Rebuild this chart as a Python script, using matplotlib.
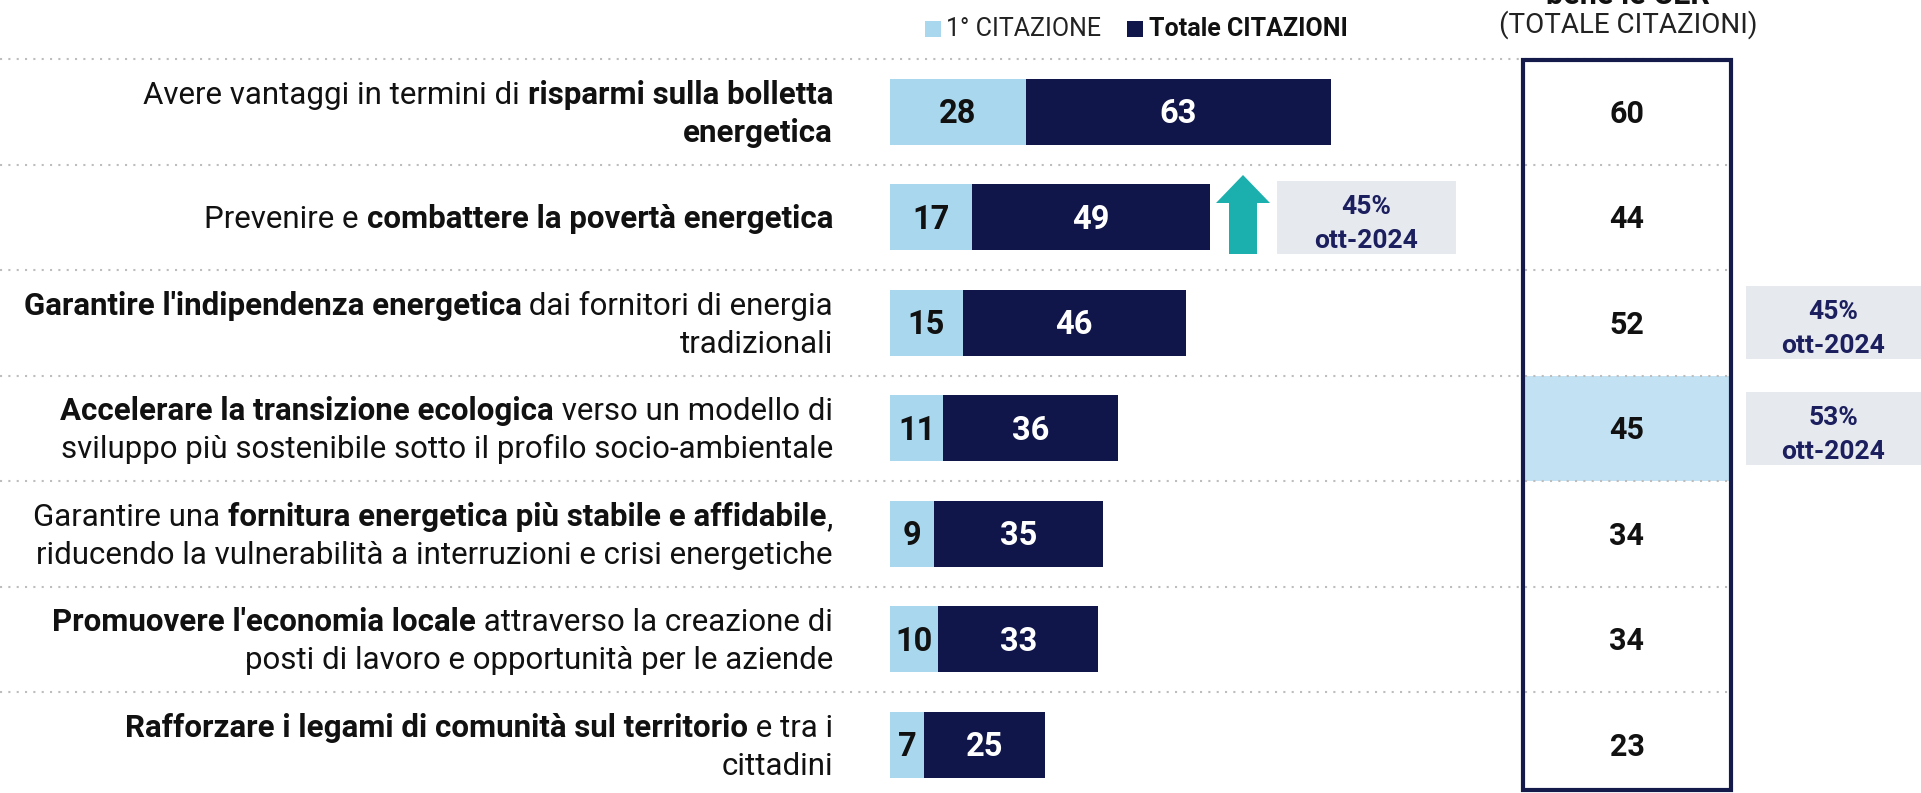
import numpy as np
import matplotlib
matplotlib.use('Agg')
import matplotlib.pyplot as plt
import matplotlib.transforms as mtransforms
from matplotlib.patches import Rectangle, Polygon

plt.rcParams['font.family'] = ['Roboto', 'DejaVu Sans']

# data
labels = [
    [[("Avere vantaggi in termini di ", False), ("risparmi sulla bolletta", True)],
     [("energetica", True)]],
    [[("Prevenire e ", False), ("combattere la povertà energetica", True)]],
    [[("Garantire l'indipendenza energetica", True), (" dai fornitori di energia", False)],
     [("tradizionali", False)]],
    [[("Accelerare la transizione ecologica", True), (" verso un modello di", False)],
     [("sviluppo più sostenibile sotto il profilo socio-ambientale", False)]],
    [[("Garantire una ", False), ("fornitura energetica più stabile e affidabile", True), (",", False)],
     [("riducendo la vulnerabilità a interruzioni e crisi energetiche", False)]],
    [[("Promuovere l'economia locale", True), (" attraverso la creazione di", False)],
     [("posti di lavoro e opportunità per le aziende", False)]],
    [[("Rafforzare i legami di comunità sul territorio", True), (" e tra i", False)],
     [("cittadini", False)]],
]
first_cit = [28, 17, 15, 11, 9, 10, 7]
total_cit = [63, 49, 46, 36, 35, 33, 25]
cer_total = [60, 44, 52, 45, 34, 34, 23]
cer_highlight = 3
bar_prev_row = 1
bar_prev = ("45%", "ott-2024")
cer_prev_rows = [2, 3]
cer_prev = [("45%", "ott-2024"), ("53%", "ott-2024")]

LIGHT = '#A9D8EE'
NAVY = '#10154A'
TEAL = '#1BAFAD'
GREYBOX = '#E6E9EE'
BOXTXT = '#1B1F5E'

W, H = 1921, 793
fig = plt.figure(figsize=(W / 100, H / 100), dpi=100)
ax = fig.add_axes([890 / W, (H - 797.5) / H, 484.6 / W, 738.5 / H])
ax.set_xlim(0, 100)
ax.set_ylim(6.5, -0.5)
ax.axis('off')
ov = fig.add_axes([0, 0, 1, 1], zorder=-1)
ov.set_xlim(0, W)
ov.set_ylim(H, 0)
ov.axis('off')

rows = np.arange(len(first_cit))
blend = mtransforms.blended_transform_factory(ov.transData, ax.transData)


def mid(trans, size, dy=0):
    # shift so that the cap height is centred on the anchor
    return mtransforms.offset_copy(trans, fig=fig, y=dy - 0.355 * size * 100 / 72,
                                   units='dots')


# separators
for k in range(len(rows)):
    ov.plot([0, 1731], [k - 0.5, k - 0.5], transform=blend, color='#BDBDBD',
            lw=1.5, linestyle=(0, (1, 3)), zorder=1)

# bars
ax.barh(rows, first_cit, height=0.63, color=LIGHT)
ax.barh(rows, total_cit, left=first_cit, height=0.63, color=NAVY)
NSIZE = 23.5
for i in rows:
    ax.text(first_cit[i] / 2, i, str(first_cit[i]), ha='center', va='baseline',
            transform=mid(ax.transData, NSIZE), fontsize=NSIZE, fontweight='bold',
            color='#111111')
    ax.text(first_cit[i] + total_cit[i] / 2, i, str(total_cit[i]), ha='center',
            va='baseline', transform=mid(ax.transData, NSIZE), fontsize=NSIZE,
            fontweight='bold', color='white')

# CER column
ov.add_patch(Rectangle((1523, cer_highlight - 0.5), 208, 1, transform=blend,
                       facecolor='#C2E2F3', edgecolor='none', zorder=0.5))
ov.add_patch(Rectangle((1523, 60), 208, 730, facecolor='none', edgecolor='#141A4A',
                       lw=3, zorder=3))
for i in rows:
    ov.text(1627, i, str(cer_total[i]), transform=mid(blend, 22), ha='center',
            va='baseline', fontsize=22, fontweight='bold', color='#111111')


# comparison boxes
def prev_box(x0, x1, row, txt):
    ov.add_patch(Rectangle((x0, row - 0.345), x1 - x0, 0.69, transform=blend,
                           facecolor=GREYBOX, edgecolor='none'))
    xc = (x0 + x1) / 2
    ov.text(xc, row, txt[0], transform=mid(blend, 19, 13), ha='center', va='baseline',
            fontsize=19, fontweight='bold', color=BOXTXT)
    ov.text(xc, row, txt[1], transform=mid(blend, 19, -21), ha='center', va='baseline',
            fontsize=19, fontweight='bold', color=BOXTXT)


prev_box(1277, 1456, bar_prev_row, bar_prev)
for r, t in zip(cer_prev_rows, cer_prev):
    prev_box(1746, 1921, r, t)

ov.add_patch(Polygon([(1229, 254), (1257, 254), (1257, 203), (1270, 203), (1243, 175),
                      (1216, 203), (1229, 203)], closed=True, facecolor=TEAL,
                     edgecolor='none'))

# legend and header
ov.add_patch(Rectangle((925, 21), 16, 16, facecolor=LIGHT, edgecolor='none'))
ov.text(946, 36, "1° CITAZIONE", ha='left', va='baseline', fontsize=18, color='#222222')
ov.add_patch(Rectangle((1127, 21), 16, 16, facecolor=NAVY, edgecolor='none'))
ov.text(1149, 36, "Totale CITAZIONI", ha='left', va='baseline', fontsize=18,
        fontweight='bold', color='#111111')
ov.text(1628, 33, "(TOTALE CITAZIONI)", ha='center', va='baseline', fontsize=20,
        color='#222222')
ov.text(1628, 4, "bene le CER", ha='center', va='baseline', fontsize=22,
        fontweight='bold', color='#111111')

# row labels, mixed weight, right aligned
renderer = fig.canvas.get_renderer()
LSIZE = 22.5


def seg_width(s, bold):
    w = 'bold' if bold else 'normal'
    t1 = ov.text(0, 0, "|" + s + "|", fontsize=LSIZE, fontweight=w)
    t2 = ov.text(0, 0, "||", fontsize=LSIZE, fontweight=w)
    d = t1.get_window_extent(renderer).width - t2.get_window_extent(renderer).width
    t1.remove()
    t2.remove()
    return d


x_right = 833
for i, lines in enumerate(labels):
    n = len(lines)
    offs = [0] if n == 1 else [19, -19]
    for line, dy in zip(lines, offs):
        widths = [seg_width(s, b) for s, b in line]
        x = x_right - sum(widths)
        tr = mid(blend, LSIZE, dy)
        for (s, b), w in zip(line, widths):
            ov.text(x, i, s, transform=tr, ha='left', va='baseline', fontsize=LSIZE,
                    fontweight='bold' if b else 'normal', color='#111111')
            x += w

fig.savefig('out.png', dpi=100)
